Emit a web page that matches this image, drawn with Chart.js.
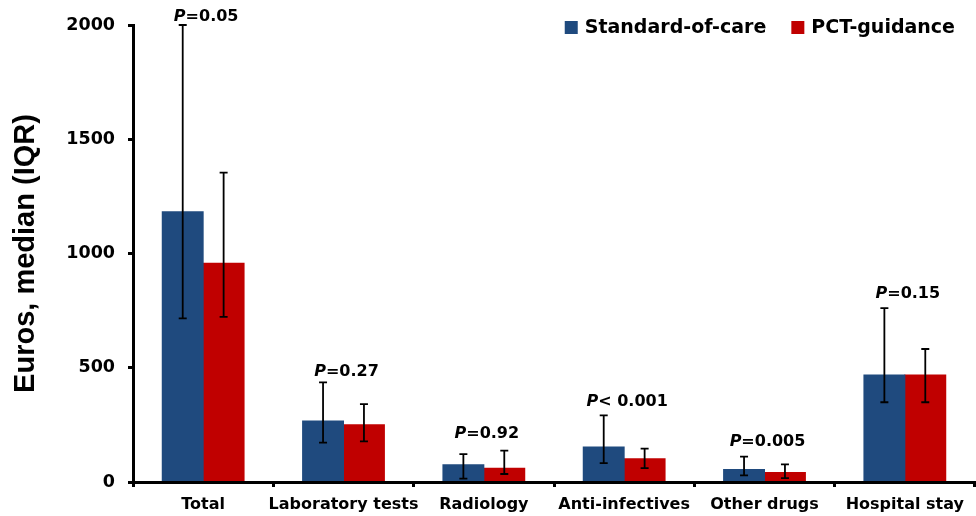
<!DOCTYPE html>
<html>
<head>
<meta charset="utf-8">
<script src="https://cdn.jsdelivr.net/npm/chart.js@4/dist/chart.umd.min.js"></script>
<style>
  html, body { margin: 0; padding: 0; background: #ffffff; }
  #c { display: block; }
</style>
</head>
<body>
<canvas id="c" width="976" height="516"></canvas>
<script>
// Cost categories
const categories = ['Total', 'Laboratory tests', 'Radiology', 'Anti-infectives', 'Other drugs', 'Hospital stay'];

// Standard-of-care: median and interquartile range (euros)
const socMedian = [1183, 267, 76, 153, 55, 468];
const socQ1     = [716, 172, 15, 83, 29, 349];
const socQ3     = [2000, 436, 122, 292, 111, 761];

// PCT-guidance: median and interquartile range (euros)
const pctMedian = [957, 251, 60, 102, 42, 468];
const pctQ1     = [723, 178, 35, 61, 17, 349];
const pctQ3     = [1354, 341, 137, 146, 77, 582];

// P values per category (text after the italic P)
const pValues = ['=0.05', '=0.27', '=0.92', '< 0.001', '=0.005', '=0.15'];

// Y axis tick values and their labels
const yTicks = [0, 500, 1000, 1500, 2000];
const yTickLabels = ['0', '500', '1000', '1500', '2000'];

const SOC_COLOR = '#1F4A7E';
const PCT_COLOR = '#C00000';
const TEXT_FONT = '"DejaVu Sans", "Liberation Sans", Arial, sans-serif';

// gap (px) between the top whisker and each P-value label
const pLabelGap = [4, 6, 13, 9, 11, 10];

const errorBars = {
  id: 'errorBars',
  afterDatasetsDraw(chart) {
    const ctx = chart.ctx;
    const y = chart.scales.y;
    const ranges = [[socQ1, socQ3], [pctQ1, pctQ3]];
    ctx.save();
    ctx.strokeStyle = '#000000';
    ctx.lineWidth = 1.8;
    ranges.forEach(([lo, hi], di) => {
      const meta = chart.getDatasetMeta(di);
      meta.data.forEach((bar, i) => {
        const x = bar.x;
        const yLo = y.getPixelForValue(lo[i]);
        const yHi = y.getPixelForValue(hi[i]);
        ctx.beginPath();
        ctx.moveTo(x, yLo); ctx.lineTo(x, yHi);
        ctx.moveTo(x - 4, yLo); ctx.lineTo(x + 4, yLo);
        ctx.moveTo(x - 4, yHi); ctx.lineTo(x + 4, yHi);
        ctx.stroke();
      });
    });
    ctx.restore();
  }
};

const pLabels = {
  id: 'pLabels',
  afterDatasetsDraw(chart) {
    const ctx = chart.ctx;
    const xs = chart.scales.x;
    const ys = chart.scales.y;
    const italic = 'bold italic 16px ' + TEXT_FONT;
    const plain = 'bold 16px ' + TEXT_FONT;
    ctx.save();
    ctx.fillStyle = '#000000';
    ctx.textBaseline = 'alphabetic';
    ctx.textAlign = 'left';
    categories.forEach((c, i) => {
      const top = Math.min(ys.getPixelForValue(socQ3[i]), ys.getPixelForValue(pctQ3[i]));
      ctx.font = italic;
      const wP = ctx.measureText('P').width;
      ctx.font = plain;
      const wR = ctx.measureText(pValues[i]).width;
      const cx = xs.getPixelForValue(i) + 3;
      const x0 = cx - (wP + wR) / 2;
      const base = top - pLabelGap[i];
      ctx.font = italic;
      ctx.fillText('P', x0, base);
      ctx.font = plain;
      ctx.fillText(pValues[i], x0 + wP, base);
    });
    ctx.restore();
  }
};

const legendBoxes = {
  id: 'legendBoxes',
  afterDraw(chart) {
    const ctx = chart.ctx;
    const font = 'bold 19px ' + TEXT_FONT;
    const box = 13, gapText = 7, gapItem = 25;
    const items = chart.data.datasets.map(d => ({ label: d.label, color: d.backgroundColor }));
    ctx.save();
    ctx.font = font;
    const widths = items.map(it => box + gapText + ctx.measureText(it.label).width);
    const total = widths.reduce((a, b) => a + b, 0) + gapItem * (items.length - 1);
    let x = chart.chartArea.right - 20 - total;
    const cy = 27.5;
    ctx.textBaseline = 'middle';
    ctx.textAlign = 'left';
    items.forEach((it, i) => {
      ctx.fillStyle = it.color;
      ctx.fillRect(x, cy - box / 2, box, box);
      ctx.fillStyle = '#000000';
      ctx.fillText(it.label, x + box + gapText, cy + 1);
      x += widths[i] + gapItem;
    });
    ctx.restore();
  }
};

new Chart(document.getElementById('c'), {
  type: 'bar',
  data: {
    labels: categories,
    datasets: [
      { label: 'Standard-of-care', data: socMedian, backgroundColor: SOC_COLOR, borderWidth: 0, inflateAmount: 0.5 },
      { label: 'PCT-guidance', data: pctMedian, backgroundColor: PCT_COLOR, borderWidth: 0, inflateAmount: 0.5 }
    ]
  },
  options: {
    responsive: false,
    animation: false,
    devicePixelRatio: 1,
    layout: { padding: { top: 25, right: 1, bottom: 0, left: 0 } },
    datasets: { bar: { categoryPercentage: 0.583, barPercentage: 1.0 } },
    plugins: {
      legend: { display: false },
      tooltip: { enabled: false }
    },
    scales: {
      x: {
        grid: { display: true, drawOnChartArea: false, drawTicks: true, tickLength: 5, color: '#000000', lineWidth: 3, offset: true },
        border: { display: true, color: '#000000', width: 3 },
        ticks: { color: '#000000', font: { family: TEXT_FONT, size: 16, weight: 'bold' }, padding: 8, maxRotation: 0, autoSkip: false },
        afterFit(scale) { scale.height = 34; }
      },
      y: {
        min: 0,
        max: 2000,
        afterBuildTicks(scale) { scale.ticks = yTicks.map(v => ({ value: v })); },
        grid: { display: true, drawOnChartArea: false, drawTicks: true, tickLength: 5, color: '#000000', lineWidth: 3 },
        border: { display: true, color: '#000000', width: 3 },
        ticks: {
          color: '#000000',
          font: { family: TEXT_FONT, size: 17.5, weight: 'bold' },
          padding: 13,
          callback: (value) => yTickLabels[yTicks.indexOf(value)]
        },
        title: {
          display: true,
          text: 'Euros, median (IQR)',
          color: '#000000',
          font: { family: '"Liberation Sans", Arial, sans-serif', size: 29, weight: 'bold' },
          padding: { top: 9, bottom: 0 }
        },
        afterFit(scale) { scale.width = 133; }
      }
    }
  },
  plugins: [errorBars, pLabels, legendBoxes]
});
</script>
</body>
</html>
